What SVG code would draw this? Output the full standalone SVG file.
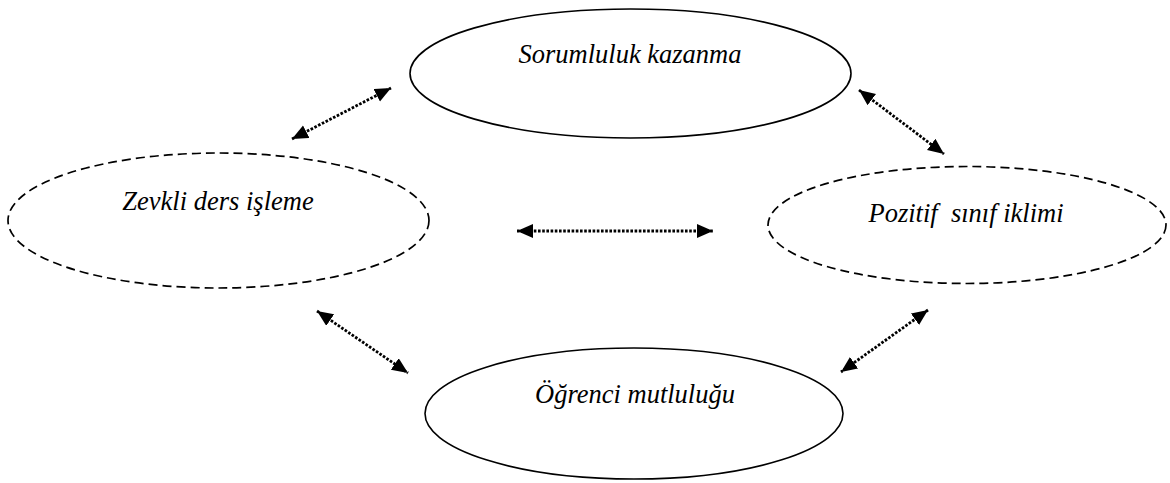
<svg xmlns="http://www.w3.org/2000/svg" width="1170" height="483" viewBox="0 0 1170 483">
<style>
.solid{fill:#fff;stroke:#000;stroke-width:1.6}
.dashed{fill:#fff;stroke:#000;stroke-width:1.7;stroke-dasharray:9 5}
.lbl{font-family:"Liberation Serif","Times New Roman","DejaVu Serif",serif;font-style:italic;font-size:26.5px;fill:#000;text-anchor:middle;white-space:pre}
.conn{stroke:#000;stroke-width:2.8;stroke-dasharray:2.6 1.6;fill:none;marker-start:url(#ah);marker-end:url(#ah)}
</style>
<defs>
<marker id="ah" markerUnits="userSpaceOnUse" markerWidth="17" markerHeight="15" refX="16" refY="7" orient="auto-start-reverse" viewBox="0 0 17 15">
<path d="M0,0 L16,7 L0,14 z" fill="#000"/>
</marker>
</defs>
<rect width="1170" height="483" fill="#fff"/>
<g id="connectors">
<line class="conn" x1="292" y1="139" x2="391" y2="88"/>
<line class="conn" x1="517" y1="231" x2="713" y2="231"/>
<line class="conn" x1="859" y1="90" x2="944" y2="154"/>
<line class="conn" x1="317" y1="311" x2="408" y2="373"/>
<line class="conn" x1="928" y1="310" x2="841" y2="372"/>
</g>
<g id="node-sorumluluk">
<ellipse class="solid" cx="630.5" cy="73.5" rx="220.5" ry="64.5"/>
<text class="lbl" x="630" y="63">Sorumluluk kazanma</text>
</g>
<g id="node-zevkli">
<ellipse class="dashed" cx="218.5" cy="220.5" rx="210.5" ry="67.5"/>
<text class="lbl" x="218" y="210">Zevkli ders işleme</text>
</g>
<g id="node-pozitif">
<ellipse class="dashed" cx="967" cy="225" rx="199" ry="58.5"/>
<text class="lbl" x="966" y="222" xml:space="preserve">Pozitif  sınıf iklimi</text>
</g>
<g id="node-ogrenci">
<ellipse class="solid" cx="634" cy="413.5" rx="209" ry="65.5"/>
<text class="lbl" x="635" y="403">Öğrenci mutluluğu</text>
</g>
</svg>
